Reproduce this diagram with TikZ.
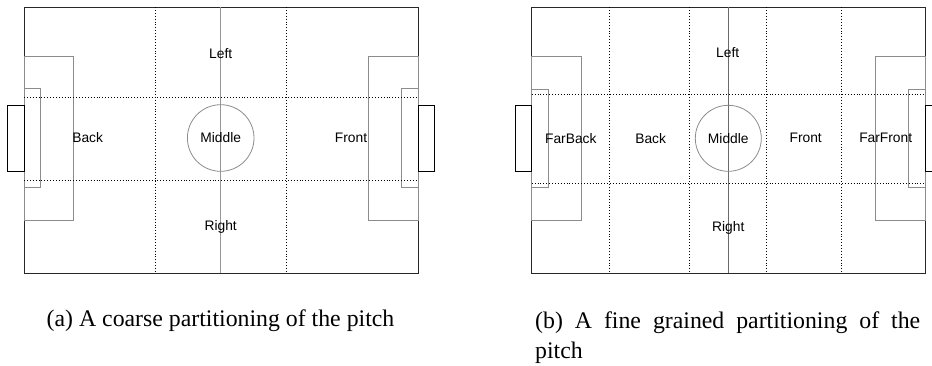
\documentclass[tikz,border=0pt]{standalone}
\usepackage{fontspec}
\setmainfont{Liberation Serif}
\setsansfont{Liberation Sans}
\usetikzlibrary{positioning}
\definecolor{touch}{RGB}{40, 40, 40}
\definecolor{half}{RGB}{150, 150, 150}
\definecolor{box}{RGB}{140, 140, 140}

\begin{document}
\begin{tikzpicture}[
    x=1pt, y=-1pt,
    outline/.style={draw=touch, line width=0.9pt},
    goalbox/.style={draw=black, line width=1pt},
    areabox/.style={draw=box, line width=0.8pt},
    halfline/.style={draw=half, line width=1pt},
    zoneline/.style={draw=black, line width=0.9pt, dotted},
    zone/.style={font=\sffamily\fontsize{13.8}{16}\selectfont, inner sep=0pt},
    caption/.style={font=\rmfamily\fontsize{23.8}{30}\selectfont, inner sep=0pt},
]
\useasboundingbox (0, 0) rectangle (932, 365);

% =============== Pitch (a): coarse zones ===============
\draw[outline] (24, 7) rectangle (418, 273);
\draw[areabox] (24, 56) rectangle (73.3, 220);
\draw[areabox] (368.5, 56) rectangle (418, 220);
\draw[areabox] (24, 88.3) rectangle (40.7, 187.3);
\draw[areabox] (401, 88.3) rectangle (418, 187.3);
\draw[goalbox] (7.3, 105) rectangle (24, 171);
\draw[goalbox] (418, 105) rectangle (434.3, 171);
\draw[halfline] (220.7, 7) -- (220.7, 273);
\draw[areabox] (220.7, 138) circle (33.3);
% zone borders
\foreach \zx in {155, 286}
    \draw[zoneline] (\zx, 7) -- (\zx, 273);
\foreach \zy in {97.3, 180.7}
    \draw[zoneline] (24, \zy) -- (418, \zy);
\node[zone] (leftA)   at (220.7, 53.3)  {Left};
\node[zone] (rightA)  at (220.7, 227.3) {Right};
\node[zone] (backA)   at (87.7, 138)    {Back};
\node[zone] (middleA) at (220.7, 138)   {Middle};
\node[zone] (frontA)  at (351, 138)     {Front};

% =============== Pitch (b): fine zones ===============
\draw[outline] (531.7, 7.3) rectangle (925, 273.3);
\draw[areabox] (531.7, 56.7) rectangle (581, 220);
\draw[areabox] (875.7, 56.7) rectangle (925, 220);
\draw[areabox] (531.7, 89.3) rectangle (548.3, 187.7);
\draw[areabox] (908.3, 89.3) rectangle (925, 187.7);
\draw[goalbox] (515.3, 105.3) rectangle (531.7, 171);
\draw[goalbox] (925, 105.3) rectangle (941.3, 171);
\draw[halfline, draw=half!70!black] (728.3, 7.3) -- (728.3, 273.3);
\draw[areabox] (728.3, 138.3) circle (33);
% zone borders
\foreach \zx in {609.3, 689.3, 766.7, 841}
    \draw[zoneline] (\zx, 7.3) -- (\zx, 273.3);
\foreach \zy in {94.7, 183}
    \draw[zoneline] (531.7, \zy) -- (925, \zy);
\node[zone] (leftB)     at (727.7, 52.3)  {Left};
\node[zone] (rightB)    at (728.3, 227.7) {Right};
\node[zone] (farbackB)  at (570.8, 138.3) {FarBack};
\node[zone] (backB)     at (650.7, 138.3) {Back};
\node[zone] (middleB)   at (728.3, 138.3) {Middle};
\node[zone] (frontB)    at (805.7, 138.3) {Front};
\node[zone] (farfrontB) at (885.7, 138.3) {FarFront};

% =============== Captions ===============
\node[caption, anchor=base] (capA) at (220.5, 326.7)
    {(a) A coarse partitioning of the pitch};
\node[caption, anchor=north west, text width=385pt, align=justify]
    (capB) at (535, 311.5)
    {\hyphenpenalty=10000 \tolerance=10000
     (b) A fine grained partitioning of the pitch};

\end{tikzpicture}
\end{document}
